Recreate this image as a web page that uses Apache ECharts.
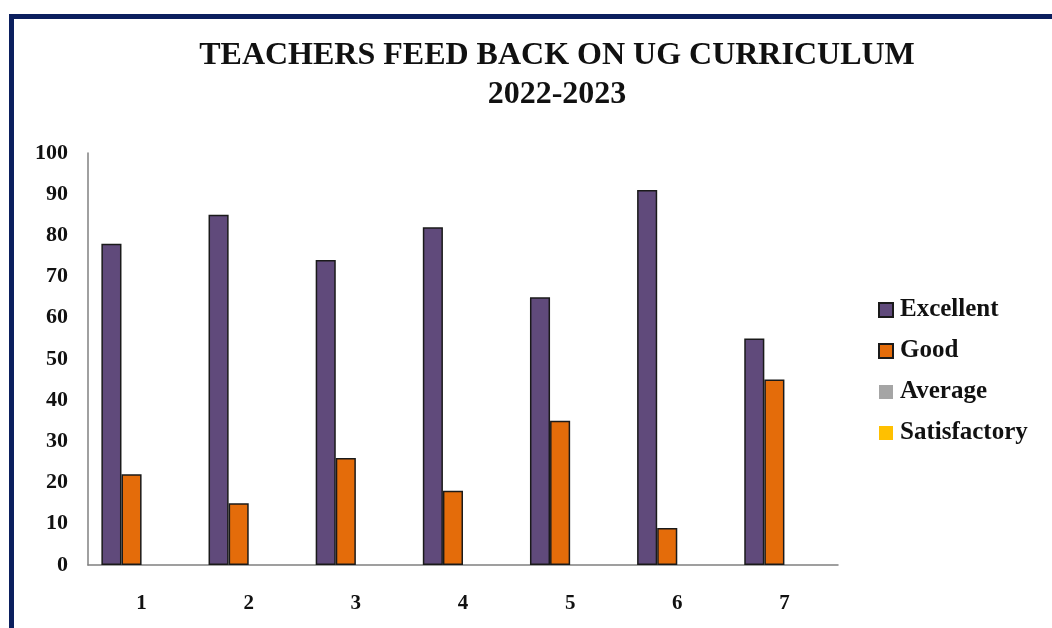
<!DOCTYPE html>
<html style="height: 100%;width:100%">
<head>
    <meta charset="utf-8">
    <style>
        body { margin: 0; height: 100%; width: 100%; background: #fff; overflow: hidden; }
        #frame { position: absolute; left: 9px; top: 14px; width: 1100px; height: 700px;
                 border-left: 5px solid #0b1f5e; border-top: 5px solid #0b1f5e; }
        #chart-panel { position: absolute; left: 0; top: 0; width: 1052px; height: 628px; }
    </style>
</head>
<body>
<div id="frame"></div>
<div id="chart-panel"></div>
<script type="text/javascript" src="https://cdn.jsdelivr.net/npm/echarts@6/dist/echarts.min.js"></script>
<script type="text/javascript">
var categories = ['1', '2', '3', '4', '5', '6', '7'];
var excellent = [78, 85, 74, 82, 65, 91, 55];
var good = [22, 15, 26, 18, 35, 9, 45];
var average = [0, 0, 0, 0, 0, 0, 0];
var satisfactory = [0, 0, 0, 0, 0, 0, 0];

var myChart = echarts.init(document.getElementById('chart-panel'));
var serif = '"Liberation Serif", "Times New Roman", serif';

var option = {
    backgroundColor: 'transparent',
    animation: false,
    title: {
        text: 'TEACHERS FEED BACK ON UG CURRICULUM\n2022-2023',
        left: 552,
        top: 31,
        textAlign: 'center',
        textStyle: {
            fontFamily: serif,
            fontWeight: 'bold',
            fontSize: 32,
            lineHeight: 39,
            color: '#111'
        }
    },
    legend: {
        orient: 'vertical',
        left: 873,
        top: 291,
        icon: 'rect',
        itemWidth: 14,
        itemHeight: 14,
        itemGap: 13,
        textStyle: {
            fontFamily: serif,
            fontWeight: 'bold',
            fontSize: 25,
            lineHeight: 28,
            padding: [0, 0, 0, 2],
            color: '#111'
        },
        data: ['Excellent', 'Good', 'Average', 'Satisfactory']
    },
    grid: {
        left: 88,
        right: 214,
        top: 153,
        bottom: 63
    },
    xAxis: {
        type: 'category',
        data: categories,
        axisLine: { lineStyle: { color: '#808080', width: 1.5 } },
        axisTick: { show: false },
        axisLabel: {
            margin: 28,
            fontFamily: serif,
            fontWeight: 'bold',
            fontSize: 21,
            color: '#111'
        }
    },
    yAxis: {
        type: 'value',
        min: 0,
        max: 100,
        interval: 10,
        axisLine: { show: true, lineStyle: { color: '#808080', width: 1.5 } },
        axisTick: { show: false },
        splitLine: { show: false },
        axisLabel: {
            margin: 20,
            fontFamily: serif,
            fontWeight: 'bold',
            fontSize: 22,
            color: '#111'
        }
    },
    series: [
        {
            name: 'Excellent', type: 'bar', data: excellent,
            barGap: 0, barCategoryGap: '25%',
            itemStyle: { color: '#604a7b', borderColor: '#1a1a1a', borderWidth: 1.5 }
        },
        {
            name: 'Good', type: 'bar', data: good,
            itemStyle: { color: '#e46c0a', borderColor: '#1a1a1a', borderWidth: 1.5 }
        },
        {
            name: 'Average', type: 'bar', data: average,
            itemStyle: { color: '#a5a5a5', borderWidth: 0 }
        },
        {
            name: 'Satisfactory', type: 'bar', data: satisfactory,
            itemStyle: { color: '#ffc000', borderWidth: 0 }
        }
    ]
};

myChart.setOption(option);
</script>
</body>
</html>
